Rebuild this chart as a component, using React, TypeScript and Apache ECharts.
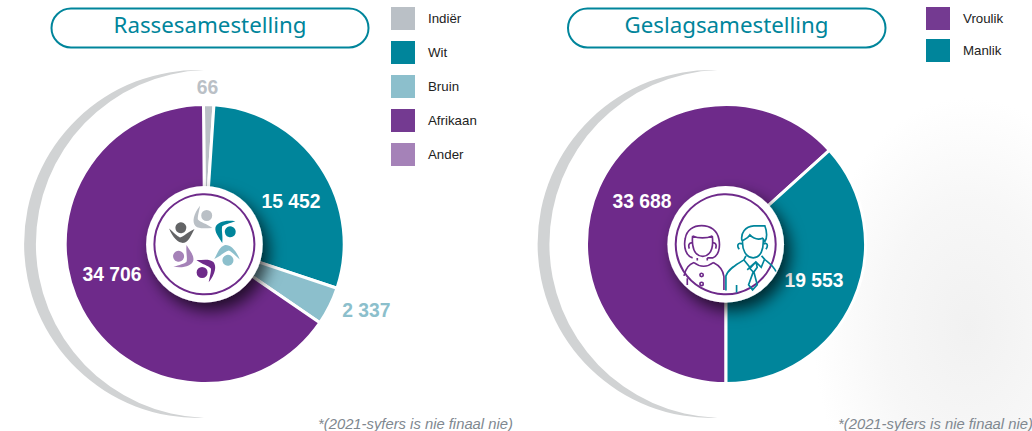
import React, { useEffect, useRef } from "react";
import * as echarts from "echarts";

// ---- data ----
const raceNames = ["Indiër", "Wit", "Bruin", "Afrikaan", "Ander"];
const raceValues: (number | null)[] = [66, 15452, 2337, 34706, null];
const genderNames = ["Vroulik", "Manlik"];
const genderValues = [33688, 19553];
const titles = ["Rassesamestelling", "Geslagsamestelling"];
const footnote = "*(2021-syfers is nie finaal nie)";

// ---- styling / layout ----
const TEAL = "#00859B";
const PURPLE = "#6E2A8A";
const LEG_PURPLE = "#743A91";
const GREY = "#BAC0C6";
const LIGHT_TEAL = "#8CBFCC";
const LILAC = "#A582B8";
const raceColors = [GREY, TEAL, LIGHT_TEAL, PURPLE, LILAC];
const raceLegend = [GREY, TEAL, LIGHT_TEAL, LEG_PURPLE, LILAC];
const genderColors = [PURPLE, TEAL];
const genderLegend = [LEG_PURPLE, TEAL];
const raceLabelColors = [GREY, "#fff", LIGHT_TEAL, "#fff", "#fff"];
const raceLabelPos = [[207.5, 87.5], [291, 201], [366.3, 310.5], [112, 274.5]];
const genderLabelPos = [[642, 201], [814, 280]];
const CY = 244;
const CX_L = 204.7;
const CX_R = 726;
const SANS = "'Liberation Sans', Arial, sans-serif";

echarts.graphic.registerShape(
  "crescent",
  echarts.graphic.extendPath("M0 -173.9 A174 174 0 1 0 0 173.9 A174 174 0 0 1 0 -173.9 Z" as any, {})
);
echarts.graphic.registerShape(
  "figure",
  echarts.graphic.extendPath(
    ("M-4.3 -38.3 C-5.5 -32 -7 -27 -6.5 -24.5 C-4 -21.5 2 -20.5 8 -16 C1 -16 -5 -14.5 -9 -18 C-12.5 -22 -11 -30 -4.3 -38.3 Z " +
      "M-3.2 -28.5 A5.5 5.5 0 1 0 7.8 -28.5 A5.5 5.5 0 1 0 -3.2 -28.5 Z") as any,
    {}
  )
);
// people icon, in 3x units
echarts.graphic.registerShape(
  "woman",
  echarts.graphic.extendPath(
    ("M128 264 C108 258 100 232 106 205 C110 180 130 167 155 167 C182 167 202 182 207 208 C212 235 205 258 188 264 L172 264 " +
      "M128 198 C145 206 170 206 187 198 M128 198 C126 215 128 240 138 250 C150 263 168 262 178 250 C188 240 189 215 187 198 " +
      "M128 220 C118 216 114 226 118 236 M187 220 C197 216 201 226 197 236 " +
      "M132 278 C150 292 172 292 190 278 M132 278 C118 284 108 292 102 318 M190 278 C210 288 220 305 222 320 L222 360 " +
      "M142 264 L142 272 M172 264 L172 272 " +
      "M112 325 L112 345 M150 315 A5 5 0 1 0 160 315 A5 5 0 1 0 150 315 Z M150 342 A5 5 0 1 0 160 342 A5 5 0 1 0 150 342 Z") as any,
    {}
  )
);
echarts.graphic.registerShape(
  "man",
  echarts.graphic.extendPath(
    ("M276 212 C272 190 285 170 312 168 L345 168 C352 185 352 205 345 215 L338 205 C325 210 310 205 300 195 C295 205 285 208 278 212 " +
      "M278 212 C276 240 288 263 310 264 C332 263 342 240 340 205 " +
      "M276 222 C264 216 260 228 268 238 M342 222 C352 216 356 228 348 238 " +
      "M288 258 L282 270 L300 292 L318 276 L334 292 L344 268 L335 258 " +
      "M300 292 L292 300 M318 276 L300 296 L310 306 L296 345 L308 360 L322 345 L312 306 L322 292 L318 276 " +
      "M282 270 C262 282 236 296 228 318 L228 362 M344 268 C355 278 372 288 378 305 " +
      "M260 345 L260 368") as any,
    {}
  )
);

const fmt = (v: number) => String(v).replace(/\B(?=(\d{3})+$)/g, " ");

function pie(
  names: string[],
  values: (number | null)[],
  colors: string[],
  labelColors: string[],
  pos: number[][],
  cx: number,
  startAngle: number,
  minAngle: number
) {
  return {
    type: "pie",
    center: [cx, CY],
    radius: [0, 139.5],
    startAngle,
    minAngle,
    clockwise: true,
    silent: true,
    avoidLabelOverlap: false,
    z: 3,
    itemStyle: { borderColor: "#fff", borderWidth: 3 },
    labelLine: { show: false },
    label: {
      show: true,
      position: "inside",
      fontFamily: SANS,
      fontWeight: "bold",
      fontSize: 19.3,
      formatter: (p: any) => fmt(p.value),
    },
    labelLayout: (p: any) => {
      const q = pos[p.dataIndex];
      return q ? { x: q[0], y: q[1], align: "center", verticalAlign: "middle" } : {};
    },
    data: names.map((name, i) => ({
      name,
      value: values[i],
      itemStyle: { color: colors[i] },
      label: { color: labelColors[i], show: values[i] !== null },
    })),
  };
}

function legend(names: string[], colors: string[], left: number, gap: number) {
  return {
    orient: "vertical",
    left,
    top: 7,
    padding: 0,
    itemWidth: 24,
    itemHeight: 23,
    itemGap: gap,
    selectedMode: false,
    icon: "rect",
    textStyle: { fontFamily: SANS, fontSize: 13.3, color: "#222", padding: [0, 0, 0, 8] },
    data: names.map((name, i) => ({ name, itemStyle: { color: colors[i], borderWidth: 0 } })),
  };
}

function hub(cx: number, cy: number) {
  return [
    {
      type: "circle",
      z: 10,
      shape: { cx, cy, r: 58.3 },
      style: { fill: "#fff", shadowBlur: 16, shadowOffsetX: 6, shadowOffsetY: 8, shadowColor: "rgba(0,0,0,0.7)" },
    },
    {
      type: "circle",
      z: 11,
      shape: { cx, cy, r: 50 },
      style: { fill: "#fff", stroke: PURPLE, lineWidth: 2 },
    },
  ];
}

const figureColors = [GREY, TEAL, LIGHT_TEAL, PURPLE, LILAC, "#636466"];
const titleStyle = { fontFamily: "'Noto Sans', sans-serif", fontWeight: "normal", fontSize: 22.3, color: TEAL };

export default function App() {
  const ref = useRef<HTMLDivElement>(null);
  useEffect(() => {
    const chart = echarts.init(ref.current!, undefined, { renderer: "svg" });
    chart.setOption({
      animation: false,
      backgroundColor: "#fff",
      title: [
        { text: titles[0], left: 210, top: 13, textAlign: "center", textStyle: titleStyle, padding: 0 },
        { text: titles[1], left: 726.5, top: 13, textAlign: "center", textStyle: titleStyle, padding: 0 },
      ],
      legend: [legend(raceNames, raceLegend, 391, 11), legend(genderNames, genderLegend, 926, 9)],
      series: [
        pie(raceNames, raceValues, raceColors, raceLabelColors, raceLabelPos, CX_L, 90.5, 4.3),
        pie(genderNames, genderValues, genderColors, ["#fff", "#fff"], genderLabelPos, CX_R, 270, 0),
      ],
      graphic: [
        {
          type: "rect",
          z: -10,
          shape: { x: 780, y: 60, width: 252, height: 371 },
          style: {
            fill: new echarts.graphic.RadialGradient(0.75, 0.72, 0.62, [
              { offset: 0, color: "#F1F1F1" },
              { offset: 0.55, color: "#F7F7F7" },
              { offset: 1, color: "#FFFFFF" },
            ]),
          },
        },
        { type: "crescent", x: 204, y: CY, z: 0, style: { fill: "#D1D3D4" } },
        { type: "crescent", x: 717.5, y: CY, z: 0, style: { fill: "#D1D3D4" } },
        { type: "rect", z: 1, shape: { x: 51.5, y: 8.5, width: 317, height: 39, r: 19.5 }, style: { fill: "#fff", stroke: TEAL, lineWidth: 2 } },
        { type: "rect", z: 1, shape: { x: 568, y: 8.5, width: 317.5, height: 39, r: 19.5 }, style: { fill: "#fff", stroke: TEAL, lineWidth: 2 } },
        ...hub(204.4, 244.3),
        ...hub(725.7, 244.3),
        ...figureColors.map((c, i) => ({
          type: "figure",
          x: 204.4,
          y: 244,
          rotation: (-i * Math.PI) / 3,
          z: 12,
          style: { fill: c },
        })),
        { type: "woman", x: 650, y: 170, scaleX: 1 / 3, scaleY: 1 / 3, z: 12, style: { fill: "none", stroke: PURPLE, lineWidth: 5 } },
        { type: "man", x: 650, y: 170, scaleX: 1 / 3, scaleY: 1 / 3, z: 12, style: { fill: "none", stroke: TEAL, lineWidth: 5 } },
        { type: "text", x: 318, y: 416, z: 12, style: { text: footnote, font: `italic 14.8px ${SANS}`, fill: "#808890" } },
        { type: "text", x: 838, y: 416, z: 12, style: { text: footnote, font: `italic 14.8px ${SANS}`, fill: "#808890" } },
      ],
    });
    return () => chart.dispose();
  }, []);
  return <div ref={ref} style={{ position: "absolute", left: 0, top: 0, width: 1032, height: 431, overflow: "hidden" }} />;
}
